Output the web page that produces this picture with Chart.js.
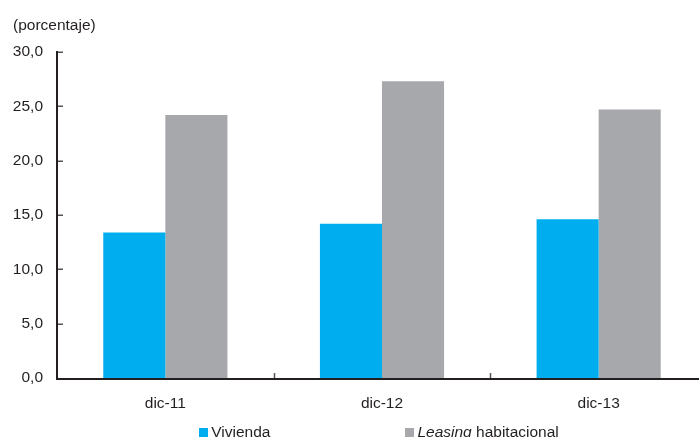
<!DOCTYPE html>
<html>
<head>
<meta charset="utf-8">
<script src="https://cdn.jsdelivr.net/npm/chart.js@4/dist/chart.umd.min.js"></script>
<style>
  html, body { margin: 0; padding: 0; background: #fff; overflow: hidden; }
  body { width: 699px; height: 437px; position: relative; font-family: "Liberation Sans", Arial, sans-serif; color: #231f20; }
  .wrap { position: absolute; left: 0; top: 0; width: 708px; height: 437px; }
  #unit { position: absolute; left: 13px; top: 15px; font-size: 15.5px; line-height: 20px; }
  #legend { position: absolute; left: 54px; width: 650px; top: 422px; display: flex; justify-content: center; gap: 135px; font-size: 15.5px; line-height: 20px; white-space: nowrap; }
  #legend span.box { display: inline-block; width: 9px; height: 9px; margin-right: 3px; vertical-align: 0px; }
</style>
</head>
<body>
<div class="wrap"><canvas id="chart"></canvas></div>
<div id="unit">(porcentaje)</div>
<div id="legend"></div>
<script>
const categories = ["dic-11", "dic-12", "dic-13"];
const vivienda = [13.4, 14.2, 14.6];
const leasing = [24.2, 27.3, 24.7];
const yTicks = [0, 5, 10, 15, 20, 25, 30];

const BLUE = "#00aeef";
const GREY = "#a7a8ab";
const INK = "#231f20";

// axis lines plus short tick marks pointing into the plot
const axisPlugin = {
  id: "axisLines",
  afterDatasetsDraw(chart) {
    const { ctx, chartArea, scales } = chart;
    const x = scales.x, y = scales.y;
    ctx.save();
    ctx.strokeStyle = "#555";
    ctx.lineWidth = 1.5;
    yTicks.forEach((v) => {
      if (v === 0) return;
      const py = Math.round(y.getPixelForValue(v)) + 0.25;
      ctx.beginPath();
      ctx.moveTo(chartArea.left, py);
      ctx.lineTo(chartArea.left + 6, py);
      ctx.stroke();
    });
    const step = x.getPixelForValue(1) - x.getPixelForValue(0);
    for (let i = 1; i <= categories.length; i++) {
      const px = Math.round(x.getPixelForValue(i) - step / 2) + 0.5;
      ctx.beginPath();
      ctx.moveTo(px, chartArea.bottom);
      ctx.lineTo(px, chartArea.bottom - 5);
      ctx.stroke();
    }
    ctx.strokeStyle = INK;
    ctx.lineWidth = 2;
    ctx.beginPath();
    ctx.moveTo(chartArea.left, chartArea.top - 1);
    ctx.lineTo(chartArea.left, chartArea.bottom + 1);
    ctx.lineTo(chartArea.right + 2, chartArea.bottom + 1);
    ctx.stroke();
    ctx.restore();
  },
};

const chart = new Chart(document.getElementById("chart"), {
  type: "bar",
  data: {
    labels: categories,
    datasets: [
      { label: "Vivienda", data: vivienda, backgroundColor: BLUE },
      { label: "Leasing habitacional", data: leasing, backgroundColor: GREY },
    ],
  },
  options: {
    responsive: true,
    maintainAspectRatio: false,
    animation: false,
    datasets: { bar: { barPercentage: 1, categoryPercentage: 0.573 } },
    layout: { padding: { top: 52, right: 1, left: 0, bottom: 0 } },
    plugins: {
      legend: { display: false },
      tooltip: { enabled: false },
    },
    scales: {
      x: {
        grid: { display: false, drawTicks: false },
        border: { display: false },
        ticks: { color: INK, padding: 16, font: { family: "Liberation Sans", size: 15.5 } },
        afterFit: (s) => { s.height = 59; },
      },
      y: {
        min: 0,
        max: 30,
        grid: { display: false, drawTicks: false },
        border: { display: false },
        afterBuildTicks: (s) => { s.ticks = yTicks.map((v) => ({ value: v })); },
        ticks: {
          color: INK,
          padding: 14,
          font: { family: "Liberation Sans", size: 15.5 },
          callback: (v) => v.toFixed(1).replace(".", ","),
        },
        afterFit: (s) => { s.width = 57; },
      },
    },
  },
  plugins: [axisPlugin],
});

// legend under the chart, built from the datasets
const legend = document.getElementById("legend");
chart.data.datasets.forEach((ds) => {
  const item = document.createElement("div");
  const box = document.createElement("span");
  box.className = "box";
  box.style.background = ds.backgroundColor;
  item.appendChild(box);
  if (ds.label.startsWith("Leasing")) {
    const em = document.createElement("i");
    em.textContent = "Leasing";
    item.appendChild(em);
    item.appendChild(document.createTextNode(ds.label.slice(7)));
  } else {
    item.appendChild(document.createTextNode(ds.label));
  }
  legend.appendChild(item);
});
</script>
</body>
</html>
